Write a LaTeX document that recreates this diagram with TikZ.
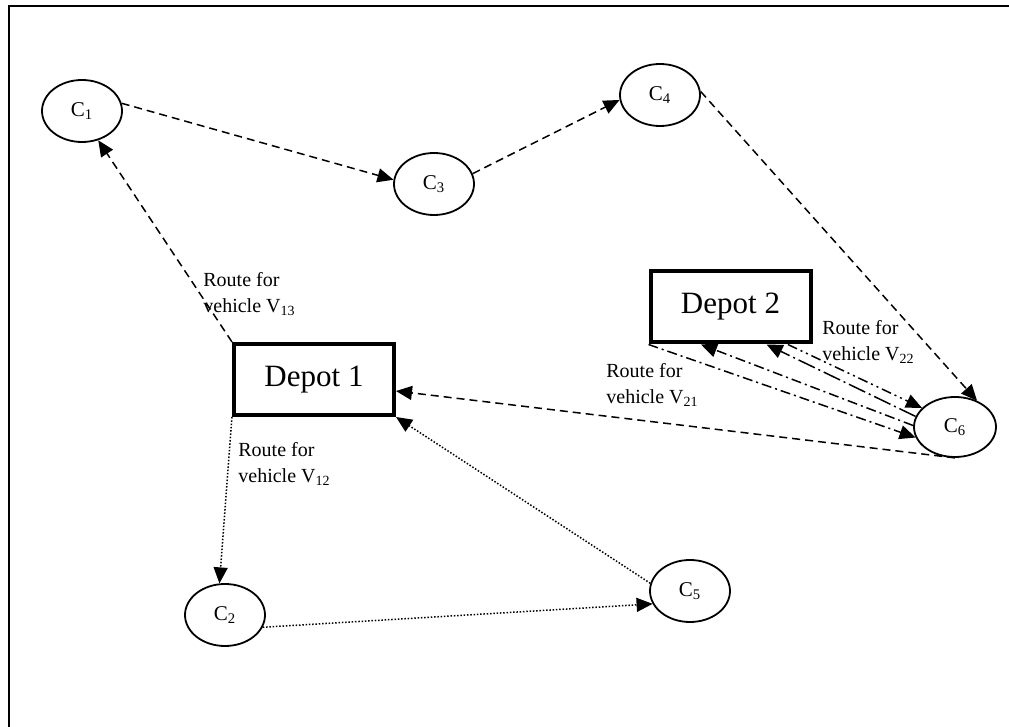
\documentclass[tikz,border=0pt]{standalone}
\usepackage{fontspec}
\setmainfont{Liberation Serif}
\usetikzlibrary{arrows.meta,shapes.geometric,calc}

\tikzset{
  cust/.style={ellipse, draw, line width=0.9pt, minimum width=40pt, minimum height=31pt,
               inner sep=0pt, font=\fontsize{10.5}{12}\selectfont},
  depot/.style={rectangle, draw, line width=2pt, minimum width=80pt, minimum height=35.5pt,
                inner sep=0pt, font=\fontsize{15.5}{18}\selectfont},
  lbl/.style={anchor=west, align=left, inner sep=0pt, font=\fontsize{10}{13}\selectfont},
  tip/.style={-{Triangle[length=8pt,width=7pt]}},
  conn/.style={tip, line width=0.75pt},
  dashline/.style={conn, dash pattern=on 4pt off 2.5pt},
  dotline/.style={conn, dash pattern=on 0.75pt off 0.9pt},
  dashdotline/.style={conn, dash pattern=on 5pt off 2pt on 1pt off 2pt},
  longdashdotline/.style={conn, dash pattern=on 9pt off 2pt on 1pt off 2pt},
  dashdotdotline/.style={conn, dash pattern=on 5pt off 2pt on 1pt off 2pt on 1pt off 2pt},
}

\begin{document}
\begin{tikzpicture}[x=0.5pt, y=-0.5pt]
  \useasboundingbox (0,0) rectangle (1009,727);

  % outer frame (left and top edges)
  \draw[line width=1pt] (9,727) -- (9,6) -- (1009,6);

  % customers
  \node[cust] (c1) at (82,111) {C\textsubscript{1}};
  \node[cust] (c3) at (434,184) {C\textsubscript{3}};
  \node[cust] (c4) at (660,95) {C\textsubscript{4}};
  \node[cust, minimum width=41pt, minimum height=30pt] (c6) at (955,427) {C\textsubscript{6}};
  \node[cust] (c2) at (225,615) {C\textsubscript{2}};
  \node[cust] (c5) at (690,591) {C\textsubscript{5}};

  % depots
  \node[depot] (d1) at (314,379.5) {Depot 1};
  \node[depot] (d2) at (730.5,307) {Depot 2};

  % route labels
  \node[lbl] (l13) at (203,294) {Route for\\vehicle V\textsubscript{13}};
  \node[lbl] (l12) at (238,463.5) {Route for\\vehicle V\textsubscript{12}};
  \node[lbl] (l21) at (606,384.5) {Route for\\vehicle V\textsubscript{21}};
  \node[lbl] (l22) at (822,341.5) {Route for\\vehicle V\textsubscript{22}};

  % route of vehicle V13
  \draw[dashline] (d1.north west) -- (c1.-61);
  \draw[dashline] (c1.11) -- (c3.174);
  \draw[dashline] (c3.15) -- (c4.187);
  \draw[dashline] (c4.5) -- (c6.50);
  \draw[dashline] (c6.south) -- (d1.-8);

  % route of vehicle V12
  \draw[dotline] (d1.south west) -- (c2.100);
  \draw[dotline] (c2.-18) -- (c5.-161);
  \draw[dotline] (c5.169) -- (d1.south east);

  % routes of vehicles V21 and V22
  \coordinate (d2a) at ($(d2.south west)!0.32!(d2.south east)$);
  \coordinate (d2b) at ($(d2.south west)!0.72!(d2.south east)$);
  \coordinate (d2c) at ($(d2.south west)!0.85!(d2.south east)$);
  \draw[dashdotline] (d2.south west) -- (c6.195);
  \draw[dashdotline] (c6.178) -- (d2a);
  \draw[longdashdotline] (c6.165) -- (d2b);
  \draw[dashdotdotline] (d2c) -- (c6.150);
\end{tikzpicture}
\end{document}
